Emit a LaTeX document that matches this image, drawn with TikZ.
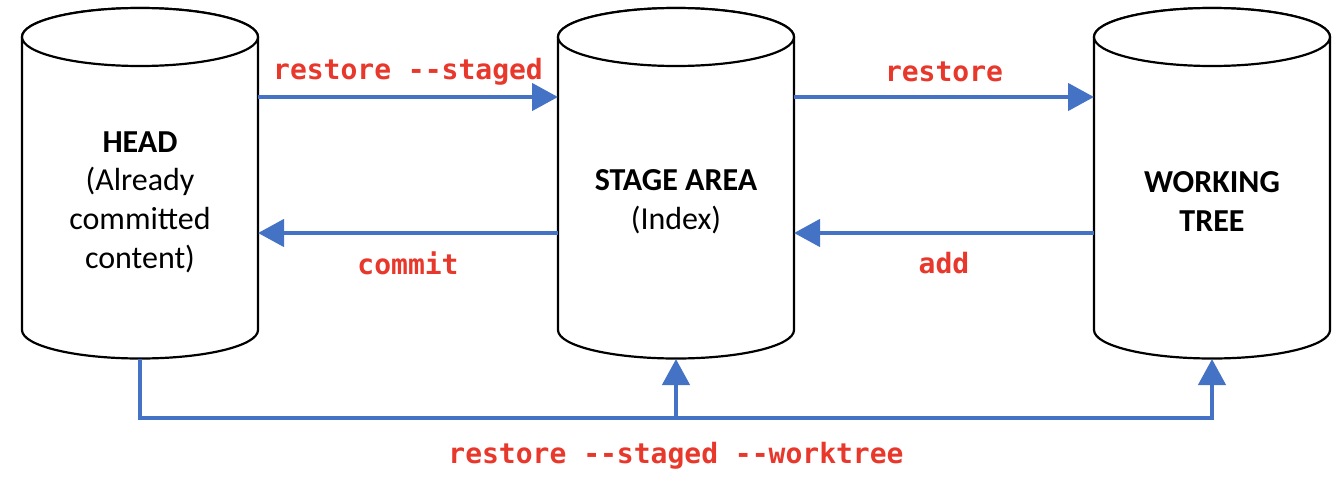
\documentclass[tikz,border=0pt]{standalone}
\usepackage{fontspec}
\setmainfont{Carlito}
\newfontfamily\codefont{DejaVu Sans Mono}
\usetikzlibrary{arrows.meta}
\definecolor{flowblue}{HTML}{4472C4}
\definecolor{cmdred}{HTML}{E8382C}
\tikzset{
  cylbody/.style={minimum width=236pt, minimum height=351pt, inner sep=0pt, outer sep=0pt},
  cyltext/.style={align=center, font=\fontsize{32}{38.7}\selectfont, inner sep=0pt},
  flow/.style={draw=flowblue, line width=4.5pt, -{Triangle[length=26pt,width=27pt]}},
  cmd/.style={text=cmdred, font=\codefont\bfseries\fontsize{28}{32}\selectfont, inner sep=0pt},
  cylline/.style={draw=black, line width=2.2pt, fill=white},
  dbcyl/.pic={
    \path[cylline] (-118,-146.5) -- (-118,146.5)
      arc[start angle=180, end angle=0, x radius=118, y radius=28.5]
      -- (118,-146.5)
      arc[start angle=0, end angle=-180, x radius=118, y radius=29] -- cycle;
    \path[cylline] (0,-146.5) ellipse[x radius=118, y radius=29];
  }
}
\begin{document}
\begin{tikzpicture}[x=1pt,y=-1pt]
\useasboundingbox (0,0) rectangle (1344,480);
% cylinders
\pic at (140,183.5) {dbcyl};
\pic at (676,183.5) {dbcyl};
\pic at (1212,183.5) {dbcyl};
\node[cylbody] (head)  at (140,183.5) {};
\node[cylbody] (stage) at (676,183.5) {};
\node[cylbody] (work)  at (1212,183.5) {};
% texts
\node[cyltext] (headtxt)  at (140,202) {\textbf{HEAD}\\(Already\\committed\\content)};
\node[cyltext] (stagetxt) at (676,201.5) {\textbf{STAGE AREA}\\(Index)};
\node[cyltext] (worktxt)  at (1212,201.5) {\textbf{WORKING}\\\textbf{TREE}};
% top arrows
\draw[flow] (head.east |- 0,97) -- (stage.west |- 0,97)
  node[cmd, midway, yshift=25.5pt] (l1) {restore --staged};
\draw[flow] (stage.east |- 0,97) -- (work.west |- 0,97)
  node[cmd, midway, yshift=25.5pt] (l2) {restore};
% lower arrows
\draw[flow] (stage.west |- 0,233) -- (head.east |- 0,233)
  node[cmd, midway, yshift=-30pt] (l3) {commit};
\draw[flow] (work.west |- 0,233) -- (stage.east |- 0,233)
  node[cmd, midway, yshift=-30pt] (l4) {add};
% bottom connector
\coordinate (junc) at (stage.south |- 0,418);
\draw[flow] (head.south) |- (work.south |- junc) -- (work.south);
\draw[flow] (junc) -- (stage.south);
\node[cmd] (l5) at ([yshift=-38pt]junc) {restore --staged --worktree};
\end{tikzpicture}
\end{document}
